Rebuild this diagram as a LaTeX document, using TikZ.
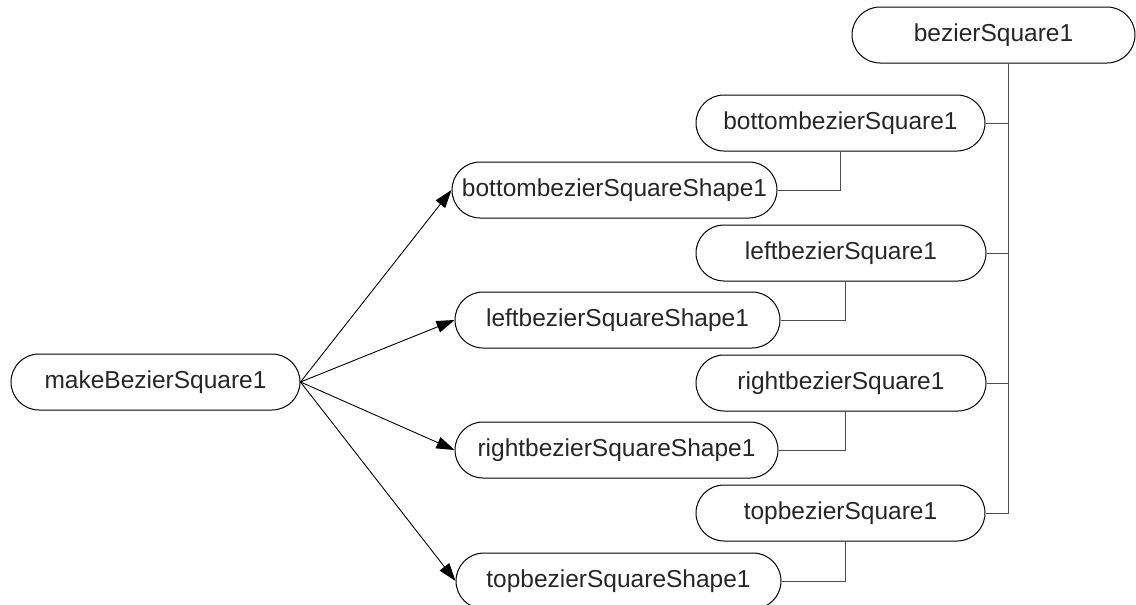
\documentclass[tikz,border=0pt]{standalone}
\usepackage{fontspec}
\setmainfont{Liberation Sans}
\usetikzlibrary{shapes.misc,arrows.meta}
\begin{document}
\begin{tikzpicture}[x=1pt,y=-1pt,
  box/.style={rounded rectangle, draw=black, line width=1pt, minimum height=56pt,
    inner sep=0pt, text=black!85, font=\fontsize{24.5}{29}\selectfont},
  tree/.style={draw=black!70, line width=1pt},
  arr/.style={draw=black, line width=0.9pt, -{Triangle[length=18pt,width=12pt]}}]
\useasboundingbox (0,0) rectangle (1136,605);
\node[box, minimum width=283pt] (bs)  at (993.5,35)  {bezierSquare1};
\node[box, minimum width=289pt] (bb)  at (840.5,123) {bottombezierSquare1};
\node[box, minimum width=325pt] (bss) at (614.5,190) {bottombezierSquareShape1};
\node[box, minimum width=290pt] (lb)  at (841,253)   {leftbezierSquare1};
\node[box, minimum width=325pt] (lss) at (617.5,320) {leftbezierSquareShape1};
\node[box, minimum width=289pt] (mk)  at (155.5,382) {makeBezierSquare1};
\node[box, minimum width=290pt] (rb)  at (841,383)   {rightbezierSquare1};
\node[box, minimum width=323pt] (rss) at (616.5,450) {rightbezierSquareShape1};
\node[box, minimum width=289pt] (tb)  at (840.5,513) {topbezierSquare1};
\node[box, minimum width=325pt] (tss) at (618.5,581) {topbezierSquareShape1};
\coordinate (sp) at ([xshift=15pt]bs.south);
\draw[tree] (sp) |- (tb.east);
\foreach \n in {bb,lb,rb} \draw[tree] (\n.east) -- (\n.east -| sp);
\draw[tree] (bb.south) |- (bss.east);
\draw[tree] ([xshift=4pt]lb.south) |- (lss.east);
\draw[tree] ([xshift=4pt]rb.south) |- (rss.east);
\draw[tree] ([xshift=5pt]tb.south) |- (tss.east);
\draw[arr] (mk.east) -- (bss.west);
\draw[arr] (mk.east) -- (lss.west);
\draw[arr] (mk.east) -- (rss.west);
\draw[arr] (mk.east) -- (tss.west);
\end{tikzpicture}
\end{document}
